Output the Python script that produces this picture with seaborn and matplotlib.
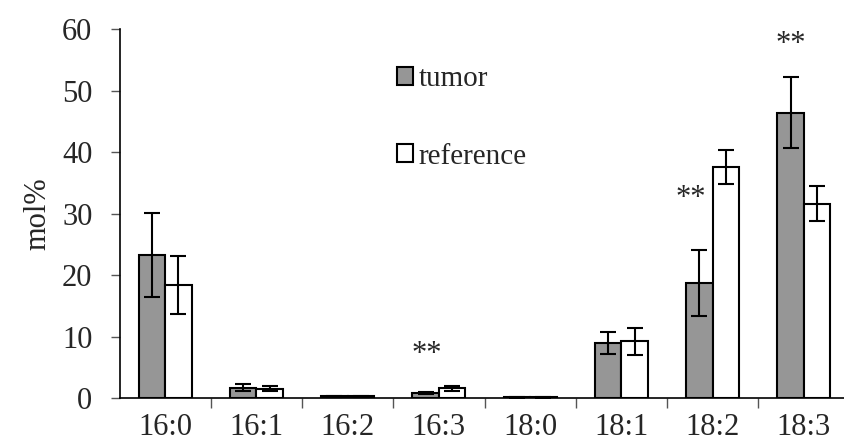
import matplotlib
matplotlib.use("Agg")
import matplotlib.pyplot as plt
import seaborn as sns
import pandas as pd
import numpy as np

categories = ["16:0", "16:1", "16:2", "16:3", "18:0", "18:1", "18:2", "18:3"]
tumor = [23.3, 1.7, 0.3, 0.8, 0.1, 8.9, 18.7, 46.4]
tumor_err = [6.8, 0.6, 0.1, 0.2, 0.05, 1.8, 5.3, 5.8]
reference = [18.4, 1.5, 0.3, 1.6, 0.1, 9.2, 37.6, 31.6]
reference_err = [4.7, 0.4, 0.1, 0.4, 0.05, 2.2, 2.8, 2.9]
groups = ["tumor", "reference"]
sig_labels = ["", "", "", "**", "", "", "**", "**"]
sig_x = [None, None, None, 2.87, None, None, 5.76, 6.86]
sig_y = [None, None, None, 5.9, None, None, 31.2, 56.2]

sns.set_style("white")
plt.rcParams["font.family"] = ["Liberation Serif", "DejaVu Serif"]
FS = 22

df = pd.DataFrame({
    "cat": categories * 2,
    "val": tumor + reference,
    "grp": [groups[0]] * len(categories) + [groups[1]] * len(categories),
})

fig = plt.figure(figsize=(8.44, 4.46), dpi=100)
ax = fig.add_axes([119.5 / 844, 1 - 398 / 446, 730 / 844, (398 - 29) / 446])

sns.barplot(data=df, x="cat", y="val", hue="grp", order=categories, hue_order=groups,
            palette={"tumor": "#969696", "reference": "#ffffff"}, width=0.58,
            edgecolor="black", linewidth=1.5, errorbar=None, ax=ax, legend=True)

# error bars from bar patches
errs = tumor_err + reference_err
vals = tumor + reference
bars = list(ax.patches)[: 2 * len(categories)]
for p, v, e in zip(bars, vals, errs):
    cx = p.get_x() + p.get_width() / 2
    ax.errorbar(cx, v, yerr=e, color="black", lw=1.5, capsize=5.5, capthick=1.5, zorder=5)

# significance marks
for s, x, y in zip(sig_labels, sig_x, sig_y):
    if s:
        ax.text(x, y, s, ha="center", va="baseline", fontsize=FS)

ax.set_ylim(0, 60)
ax.set_xlim(-0.5, 7.5)
ax.set_yticks(range(0, 61, 10))
ax.set_xlabel("")
ax.set_ylabel("mol%", fontsize=FS, labelpad=7)
ax.tick_params(axis="y", labelsize=FS, direction="out", length=6.5, width=1, left=True,
               pad=13, color="#555555")
ax.tick_params(axis="x", which="major", labelsize=FS, length=0, pad=10.5)
ax.set_xticks(np.arange(0.5, 7.6, 1.0), minor=True)
ax.tick_params(axis="x", which="minor", direction="out", length=7.5, width=1, bottom=True, color="#555555")
sns.despine(ax=ax)
for sp in ["left", "bottom"]:
    ax.spines[sp].set_color("black")
    ax.spines[sp].set_linewidth(1.2)

handles, labels = ax.get_legend_handles_labels()
leg = ax.legend(handles, labels, loc="upper left", bbox_to_anchor=(0.364, 0.93), frameon=False,
                fontsize=21, handlelength=0.55, handleheight=0.55, handletextpad=0.2,
                labelspacing=1.75, borderaxespad=0)

fig.savefig("out.png", dpi=100)
